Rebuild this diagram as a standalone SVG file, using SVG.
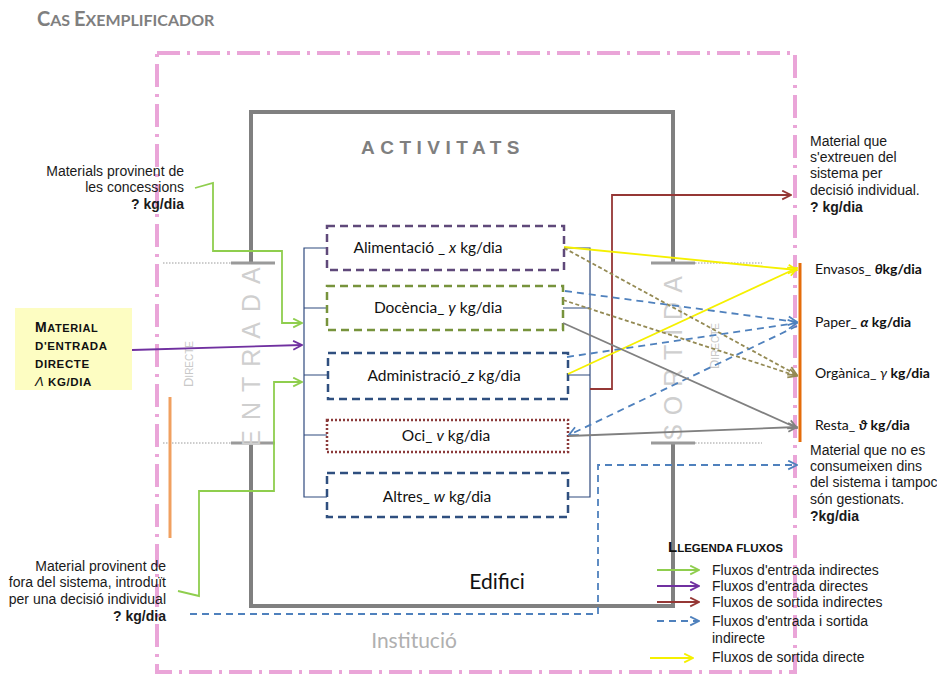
<svg xmlns="http://www.w3.org/2000/svg" width="937" height="675" viewBox="0 0 937 675">
<style>
.ar{font-family:"Liberation Sans",Arial,sans-serif;font-size:14px;fill:#1a1a1a}
.cal{font-family:Lato,"Noto Sans",sans-serif;fill:#111}
.b{font-weight:bold}
.box{fill:#fff;stroke-width:2.5}
.br{fill:none;stroke:#2f4a7f;stroke-width:1.2}
.wall{fill:none;stroke:#808080;stroke-width:4}
.cap{stroke:#9a9a9a;stroke-width:3}
.dot{stroke:#9a9a9a;stroke-width:1;stroke-dasharray:1.5 1.5}
.big{font-family:"Liberation Sans",Arial,sans-serif;fill:#cfcfcf;font-size:25px}
</style>
<defs>
<marker id="mG" viewBox="0 0 10 10" refX="9" refY="5" markerWidth="11" markerHeight="11" markerUnits="userSpaceOnUse" orient="auto"><path d="M1,1 L9,5 L1,9" fill="none" stroke="#8fce4e" stroke-width="1.6"/></marker>
<marker id="mP" viewBox="0 0 10 10" refX="9" refY="5" markerWidth="11" markerHeight="11" markerUnits="userSpaceOnUse" orient="auto"><path d="M1,1 L9,5 L1,9" fill="none" stroke="#7030a0" stroke-width="1.6"/></marker>
<marker id="mR" viewBox="0 0 10 10" refX="9" refY="5" markerWidth="11" markerHeight="11" markerUnits="userSpaceOnUse" orient="auto"><path d="M1,1 L9,5 L1,9" fill="none" stroke="#953735" stroke-width="1.6"/></marker>
<marker id="mB" viewBox="0 0 10 10" refX="9" refY="5" markerWidth="11" markerHeight="11" markerUnits="userSpaceOnUse" orient="auto"><path d="M1,1 L9,5 L1,9" fill="none" stroke="#4f81bd" stroke-width="1.6"/></marker>
<marker id="mY" viewBox="0 0 10 10" refX="9" refY="5" markerWidth="11" markerHeight="11" markerUnits="userSpaceOnUse" orient="auto"><path d="M1,1 L9,5 L1,9" fill="none" stroke="#f5f000" stroke-width="1.6"/></marker>
<marker id="mK" viewBox="0 0 10 10" refX="9" refY="5" markerWidth="11" markerHeight="11" markerUnits="userSpaceOnUse" orient="auto"><path d="M1,1 L9,5 L1,9" fill="none" stroke="#808080" stroke-width="1.6"/></marker>
<marker id="mO" viewBox="0 0 10 10" refX="9" refY="5" markerWidth="11" markerHeight="11" markerUnits="userSpaceOnUse" orient="auto"><path d="M1,1 L9,5 L1,9" fill="none" stroke="#948a54" stroke-width="1.6"/></marker>
</defs>
<rect width="937" height="675" fill="#fff"/>

<text x="37" y="26" font-family="Lato,'Noto Sans',sans-serif" font-weight="bold" fill="#7f7f7f"><tspan font-size="20">C</tspan><tspan font-size="16">AS </tspan><tspan font-size="20">E</tspan><tspan font-size="16">XEMPLIFICADOR</tspan></text>

<g id="institucio">
<rect x="157" y="53" width="638" height="619" fill="none" stroke="#eaa5d8" stroke-width="4" stroke-dasharray="23 7 3 7"/>
<text x="414" y="648" text-anchor="middle" font-family="Lato,'Noto Sans',sans-serif" font-size="21" fill="#b0b0b0">Institució</text>
</g>

<g id="edifici">
<path class="wall" d="M251,263 V112 H673 V263 M673,443 V606 H251 V443"/>
<line class="cap" x1="231" y1="263" x2="275" y2="263" stroke="#c0c0c0"/>
<line class="cap" x1="231" y1="443" x2="275" y2="443"/>
<line class="cap" x1="651" y1="263" x2="695" y2="263"/>
<line class="cap" x1="651" y1="443" x2="695" y2="443"/>
<line class="dot" x1="163" y1="263" x2="231" y2="263"/>
<line class="dot" x1="163" y1="443" x2="231" y2="443"/>
<line class="dot" x1="695" y1="263" x2="762" y2="263"/>
<line class="dot" x1="695" y1="443" x2="762" y2="443"/>
<text x="443" y="154" text-anchor="middle" font-family="'Liberation Sans',Arial,sans-serif" font-weight="bold" font-size="19" letter-spacing="5.5" fill="#7f7f7f">ACTIVITATS</text>
<text x="497" y="589" text-anchor="middle" font-family="Lato,'Noto Sans',sans-serif" font-size="21" fill="#111">Edifici</text>
</g>

<g id="entrada">
<text class="big" transform="translate(260,352) rotate(-90)" text-anchor="middle" letter-spacing="10">ENTRADA</text>
<text transform="translate(193,364) rotate(-90)" text-anchor="middle" font-family="'Liberation Sans',Arial,sans-serif" fill="#c8c8c8"><tspan font-size="13">D</tspan><tspan font-size="10">IRECTE</tspan></text>
<line x1="170" y1="397" x2="170" y2="538" stroke="#f0a060" stroke-width="3"/>
</g>

<g id="sortida">
<text class="big" transform="translate(682,354) rotate(-90)" text-anchor="middle" letter-spacing="9">SORTIDA</text>
<text transform="translate(719,346) rotate(-90)" text-anchor="middle" font-family="'Liberation Sans',Arial,sans-serif" fill="#c8c8c8"><tspan font-size="13">D</tspan><tspan font-size="10">IRECTE</tspan></text>
<line x1="800" y1="263" x2="800" y2="442" stroke="#e46c0a" stroke-width="3"/>
</g>

<g id="bracket-left"><path class="br" d="M327,248 H304 V497 H327 M304,308 H327 M304,375 H327 M304,435 H327"/></g>
<g id="bracket-right"><path class="br" d="M564,248 H590 V497 H568 M563,308 H590 M568,375 H590"/></g>

<g id="alimentacio">
<rect class="box" x="327" y="226" width="237" height="44" stroke="#5f497a" stroke-dasharray="8 5"/>
<text class="cal" x="428" y="253" text-anchor="middle" font-size="15.5">Alimentació _ <tspan font-style="italic">x</tspan> kg/dia</text>
</g>
<g id="docencia">
<rect class="box" x="327" y="286" width="236" height="44" stroke="#77933c" stroke-dasharray="8 5"/>
<text class="cal" x="438" y="313" text-anchor="middle" font-size="15.5">Docència_ <tspan font-style="italic">y</tspan> kg/dia</text>
</g>
<g id="administracio">
<rect class="box" x="328" y="353" width="240" height="46" stroke="#2f4f7f" stroke-dasharray="8 5"/>
<text class="cal" x="444" y="381" text-anchor="middle" font-size="15.5">Administració_<tspan font-style="italic">z</tspan> kg/dia</text>
</g>
<g id="oci">
<rect class="box" x="327" y="420" width="241" height="32" stroke="#8b3a3a" stroke-dasharray="2 2"/>
<text class="cal" x="446" y="441" text-anchor="middle" font-size="15.5">Oci_ <tspan font-style="italic">v</tspan> kg/dia</text>
</g>
<g id="altres">
<rect class="box" x="327" y="473" width="241" height="44" stroke="#2f4f7f" stroke-dasharray="8 5"/>
<text class="cal" x="437" y="502" text-anchor="middle" font-size="15.5">Altres_ <tspan font-style="italic">w</tspan> kg/dia</text>
</g>

<g id="material-directe">
<rect x="15" y="308" width="117" height="82" fill="#fdfdc2"/>
<text font-family="'Liberation Sans',Arial,sans-serif" font-weight="bold" fill="#111" letter-spacing="0.6">
<tspan x="35" y="332" font-size="14">M</tspan><tspan font-size="11">ATERIAL</tspan>
<tspan x="35" y="350" font-size="11.5">D'ENTRADA</tspan>
<tspan x="35" y="368" font-size="11.5">DIRECTE</tspan>
<tspan x="35" y="386" font-size="13" font-style="italic" font-weight="normal">Λ</tspan><tspan font-size="11.5"> KG/DIA</tspan>
</text>
</g>

<g id="concessions">
<text class="ar" text-anchor="end"><tspan x="184" y="176">Materials provinent de</tspan><tspan x="184" y="192">les concessions</tspan><tspan x="184" y="209" class="b">? kg/dia</tspan></text>
</g>
<g id="fora-sistema">
<text class="ar" text-anchor="end"><tspan x="166" y="571">Material provinent de</tspan><tspan x="166" y="587">fora del sistema, introduït</tspan><tspan x="166" y="604">per una decisió individual</tspan><tspan x="166" y="621" class="b">? kg/dia</tspan></text>
</g>
<g id="extreuen">
<text class="ar"><tspan x="810" y="146">Material que</tspan><tspan x="810" y="162">s'extreuen del</tspan><tspan x="810" y="178">sistema per</tspan><tspan x="810" y="195">decisió individual.</tspan><tspan x="810" y="212" class="b">? kg/dia</tspan></text>
</g>
<g id="envasos"><text class="cal" x="815" y="274" font-size="14">Envasos_ <tspan font-weight="bold" font-style="italic">θ</tspan><tspan font-weight="bold">kg/dia</tspan></text></g>
<g id="paper"><text class="cal" x="815" y="327" font-size="14">Paper_ <tspan font-weight="bold" font-style="italic">α</tspan><tspan font-weight="bold"> kg/dia</tspan></text></g>
<g id="organica"><text class="cal" x="815" y="378" font-size="14">Orgànica_ <tspan font-style="italic">γ</tspan><tspan font-weight="bold"> kg/dia</tspan></text></g>
<g id="resta"><text class="cal" x="815" y="430" font-size="14">Resta_ <tspan font-weight="bold" font-style="italic">ϑ</tspan><tspan font-weight="bold"> kg/dia</tspan></text></g>
<g id="no-consumeixen">
<text class="ar"><tspan x="810" y="455">Material que no es</tspan><tspan x="810" y="471">consumeixen dins</tspan><tspan x="810" y="487">del sistema i tampoc</tspan><tspan x="810" y="504">són gestionats.</tspan><tspan x="810" y="521" class="b">?kg/dia</tspan></text>
</g>

<g id="connectors" fill="none" stroke-width="1.8">
<path d="M195,188 L213,183 V251 H282 V323 H302" stroke="#8fce4e" marker-end="url(#mG)"/>
<path d="M178,591 L199,596 V491 H274 V382 H302" stroke="#8fce4e" marker-end="url(#mG)"/>
<path d="M132,350 L302,345" stroke="#7030a0" marker-end="url(#mP)"/>
<path d="M590,389 H612 V195 H791" stroke="#953735" marker-end="url(#mR)"/>
<path d="M564,247 L797,270" stroke="#f5f000" marker-end="url(#mY)"/>
<path d="M568,374 L797,268" stroke="#f5f000" marker-end="url(#mY)"/>
<path d="M564,248 L797,375" stroke="#948a54" stroke-dasharray="4 2.5" marker-end="url(#mO)"/>
<path d="M563,300 L797,376" stroke="#948a54" stroke-dasharray="4 2.5" marker-end="url(#mO)"/>
<path d="M565,291 L797,322" stroke="#4f81bd" stroke-dasharray="7 5" marker-end="url(#mB)"/>
<path d="M567,357 L797,323" stroke="#4f81bd" stroke-dasharray="7 5" marker-end="url(#mB)"/>
<path d="M797,326 L569,435" stroke="#4f81bd" stroke-dasharray="7 5" marker-end="url(#mB)"/>
<path d="M563,323 L797,428" stroke="#808080" marker-end="url(#mK)"/>
<path d="M569,436 L797,427" stroke="#808080" marker-end="url(#mK)"/>
<path d="M190,614 H598 V465 H797" stroke="#4f81bd" stroke-dasharray="7 5" marker-end="url(#mB)"/>
</g>

<g id="legend">
<text x="668" y="552" font-family="'Liberation Sans',Arial,sans-serif" font-weight="bold" fill="#111"><tspan font-size="15">L</tspan><tspan font-size="11.5">LEGENDA FLUXOS</tspan></text>
<g fill="none" stroke-width="2.2">
<path d="M657,570 H699" stroke="#8fce4e" marker-end="url(#mG)"/>
<path d="M657,586 H699" stroke="#7030a0" marker-end="url(#mP)"/>
<path d="M657,602 H699" stroke="#953735" marker-end="url(#mR)"/>
<path d="M657,621 H699" stroke="#4f81bd" stroke-dasharray="7 5" marker-end="url(#mB)"/>
<path d="M650,658 H693" stroke="#f5f000" marker-end="url(#mY)"/>
</g>
<text class="ar"><tspan x="712" y="575">Fluxos d'entrada indirectes</tspan><tspan x="712" y="591">Fluxos d'entrada directes</tspan><tspan x="712" y="607">Fluxos de sortida indirectes</tspan><tspan x="712" y="626">Fluxos d'entrada i sortida</tspan><tspan x="712" y="643">indirecte</tspan><tspan x="712" y="662">Fluxos de sortida directe</tspan></text>
</g>
</svg>
